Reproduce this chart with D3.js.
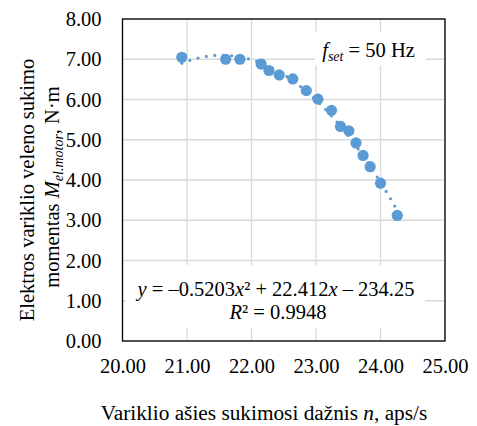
<!DOCTYPE html>
<html>
<head>
<meta charset="utf-8">
<script src="https://cdn.jsdelivr.net/npm/d3@7"></script>
<style>
  body { margin: 0; background: #fff; }
</style>
</head>
<body>
<div id="chart"></div>
<script>
// measured points: shaft speed n (aps/s) and torque (N·m)
var speedN = [20.92, 21.60, 21.82, 22.15, 22.27, 22.43, 22.64, 22.85, 23.03, 23.24, 23.38, 23.51, 23.62, 23.73, 23.84, 24.00, 24.26];
var torqueM = [7.05, 7.00, 7.00, 6.88, 6.72, 6.61, 6.51, 6.22, 6.01, 5.73, 5.33, 5.22, 4.92, 4.61, 4.33, 3.92, 3.12];
// polynomial trendline coefficients (a x^2 + b x + c) as printed on chart
var trendCoef = [-0.5203, 22.412, -234.25];
var xTicks = [20, 21, 22, 23, 24, 25];
var yTicks = [0, 1, 2, 3, 4, 5, 6, 7, 8];

var FONT = "Liberation Serif";
var W = 477, H = 426;
var margin = {top: 19, right: 32, bottom: 85, left: 122.5},
    width = W - margin.left - margin.right,
    height = H - margin.top - margin.bottom;

var root = d3.select("#chart").append("svg")
    .attr("width", W)
    .attr("height", H);
var svg = root.append("g")
    .attr("transform", "translate(" + margin.left + "," + margin.top + ")");

var x = d3.scaleLinear().domain([20, 25]).range([0, width]);
var y = d3.scaleLinear().domain([0, 8]).range([height, 0]);

// grid
svg.append("g").selectAll("line")
  .data(yTicks)
  .enter().append("line")
    .attr("x1", 0).attr("x2", width)
    .attr("y1", function(d) { return y(d); })
    .attr("y2", function(d) { return y(d); })
    .attr("stroke", "#d9d9d9").attr("stroke-width", 1.3);
svg.append("g").selectAll("line")
  .data(xTicks)
  .enter().append("line")
    .attr("y1", 0).attr("y2", height)
    .attr("x1", function(d) { return x(d); })
    .attr("x2", function(d) { return x(d); })
    .attr("stroke", "#d9d9d9").attr("stroke-width", 1.3);

// tick labels
var xAxis = svg.append("g")
  .attr("transform", "translate(0," + height + ")")
  .call(d3.axisBottom(x).tickValues(xTicks).tickSize(0).tickPadding(17).tickFormat(d3.format(".2f")));
var yAxis = svg.append("g")
  .call(d3.axisLeft(y).tickValues(yTicks).tickSize(0).tickPadding(21).tickFormat(d3.format(".2f")));
[xAxis, yAxis].forEach(function(ax) {
  ax.select(".domain").remove();
  ax.selectAll("text")
    .style("font-family", FONT)
    .style("font-size", "20.5px")
    .attr("fill", "#000");
});

// trendline (dotted)
var a = trendCoef[0], b = trendCoef[1], c = trendCoef[2];
var xs = d3.range(0, 101).map(function(i) {
  return d3.min(speedN) + (d3.max(speedN) - d3.min(speedN)) * i / 100;
});
var line = d3.line()
  .x(function(d) { return x(d); })
  .y(function(d) { return y(a * d * d + b * d + c); });
svg.append("path")
  .datum(xs)
  .attr("fill", "none")
  .attr("stroke", "#5b9bd5")
  .attr("stroke-width", 3.2)
  .attr("stroke-linecap", "round")
  .attr("stroke-dasharray", "0 8.5")
  .attr("d", line);

// points
svg.append("g").selectAll("circle")
  .data(speedN)
  .enter().append("circle")
    .attr("cx", function(d) { return x(d); })
    .attr("cy", function(d, i) { return y(torqueM[i]); })
    .attr("r", 5.6)
    .attr("fill", "#5b9bd5");

// plot border
svg.append("rect")
  .attr("width", width).attr("height", height)
  .attr("fill", "none").attr("stroke", "#000").attr("stroke-width", 1.3);

function label(sel, px) {
  return sel.style("font-family", FONT).style("font-size", px + "px").attr("fill", "#000");
}

// f_set label (positions relative to plot group)
svg.append("rect")
  .attr("x", 192.5).attr("y", 12.5).attr("width", 111).attr("height", 33.5)
  .attr("fill", "#fff");
var fl = label(svg.append("text"), 20.5)
  .attr("x", 246).attr("y", 38)
  .attr("text-anchor", "middle");
fl.append("tspan").style("font-style", "italic").text("f");
fl.append("tspan").style("font-style", "italic").style("font-size", "14px").attr("dy", 4).text("set");
fl.append("tspan").attr("dy", -4).text(" = 50 Hz");

// equation box
svg.append("rect")
  .attr("x", 3.5).attr("y", 246).attr("width", 299).attr("height", 63)
  .attr("fill", "#fff");
var eq = label(svg.append("text"), 20.5)
  .attr("x", 153.5).attr("y", 277)
  .attr("text-anchor", "middle");
eq.append("tspan").style("font-style", "italic").text("y");
eq.append("tspan").text(" = –0.5203");
eq.append("tspan").style("font-style", "italic").text("x");
eq.append("tspan").text("² + 22.412");
eq.append("tspan").style("font-style", "italic").text("x");
eq.append("tspan").text(" – 234.25");
var r2 = label(svg.append("text"), 20.5)
  .attr("x", 155.5).attr("y", 300)
  .attr("text-anchor", "middle");
r2.append("tspan").style("font-style", "italic").text("R");
r2.append("tspan").text("² = 0.9948");

// x title
var xt = label(svg.append("text"), 21.3)
  .attr("x", 264 - margin.left).attr("y", 420 - margin.top)
  .attr("text-anchor", "middle");
xt.append("tspan").text("Variklio ašies sukimosi dažnis ");
xt.append("tspan").style("font-style", "italic").text("n");
xt.append("tspan").text(", aps/s");

// y title (two lines)
var yt = root.append("g")
  .attr("transform", "translate(0,190) rotate(-90)");
label(yt.append("text"), 20.5)
  .attr("x", 0).attr("y", 34)
  .attr("text-anchor", "middle")
  .text("Elektros variklio veleno sukimo");
var yl2 = label(yt.append("text"), 20.5)
  .attr("x", 3).attr("y", 59)
  .attr("text-anchor", "middle");
yl2.append("tspan").text("momentas ");
yl2.append("tspan").style("font-style", "italic").text("M");
yl2.append("tspan").style("font-style", "italic").style("font-size", "14px").attr("dy", 4).text("el.motor");
yl2.append("tspan").attr("dy", -4).text(", N·m");
</script>
</body>
</html>
